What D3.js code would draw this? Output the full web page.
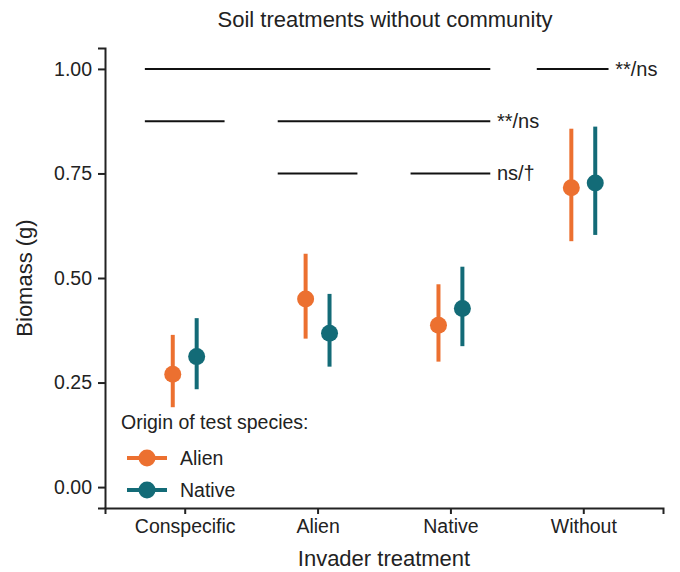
<!DOCTYPE html>
<html>
<head>
<meta charset="utf-8">
<script src="https://cdn.jsdelivr.net/npm/d3@7"></script>
<style>
  body { margin: 0; background: #fff; }
  text { font-family: "Liberation Sans", Arial, sans-serif; fill: #222; }
</style>
</head>
<body>
<div id="chart-container"></div>
<script>
// categories and series
const treatments = ["Conspecific", "Alien", "Native", "Without"];
const origins = ["Alien", "Native"];

// means and 95% intervals, one value per treatment
const alienMean = [0.270, 0.450, 0.387, 0.716];
const alienLow = [0.191, 0.355, 0.300, 0.588];
const alienHigh = [0.364, 0.558, 0.485, 0.857];
const nativeMean = [0.312, 0.368, 0.427, 0.727];
const nativeLow = [0.234, 0.288, 0.337, 0.603];
const nativeHigh = [0.404, 0.462, 0.527, 0.862];

const yTicks = [0, 0.25, 0.5, 0.75, 1.0];

// significance brackets: [category, offset from, category, offset to, y]
const sigLines = [
    ["Conspecific", -0.3, "Native", 0.3, 1.0],
    ["Without", -0.35, "Without", 0.19, 1.0],
    ["Conspecific", -0.3, "Conspecific", 0.3, 0.875],
    ["Alien", -0.3, "Native", 0.3, 0.875],
    ["Alien", -0.3, "Alien", 0.3, 0.75],
    ["Native", -0.3, "Native", 0.3, 0.75],
];
// significance labels: [category, offset, y, text]
const sigLabels = [
    ["Without", 0.24, 1.0, "**/ns"],
    ["Native", 0.35, 0.875, "**/ns"],
    ["Native", 0.35, 0.75, "ns/†"],
];

const drawChart = () => {
    const width = 680;
    const height = 572;
    const margin = { top: 48, right: 17, bottom: 64, left: 105 };

    const color = d3.scaleOrdinal()
        .domain(origins)
        .range(["#EC7030", "#136B77"]);

    const svg = d3.select("#chart-container")
        .append("svg")
        .attr("width", width)
        .attr("height", height);

    // x scale: ggplot-like discrete expansion of 0.6 units
    const x = d3.scalePoint()
        .domain(treatments)
        .range([margin.left, width - margin.right])
        .padding(0.6);
    const step = x.step();
    const xAt = (cat, off) => x(cat) + off * step;

    const y = d3.scaleLinear()
        .domain([-0.05, 1.05])
        .range([height - margin.bottom, margin.top]);

    // axes
    const xAxis = svg.append("g")
        .attr("transform", `translate(0,${height - margin.bottom})`)
        .call(d3.axisBottom(x).tickSizeOuter(0).tickSize(6).tickPadding(5));
    const yAxis = svg.append("g")
        .attr("transform", `translate(${margin.left},0)`)
        .call(d3.axisLeft(y).tickValues(yTicks).tickFormat(d3.format(".2f")).tickSizeOuter(0).tickSize(7).tickPadding(6));

    [xAxis, yAxis].forEach(ax => {
        ax.select(".domain").attr("stroke", "#222").attr("stroke-width", 2);
        ax.selectAll(".tick line").attr("stroke", "#222").attr("stroke-width", 2);
        ax.selectAll(".tick text")
            .attr("font-size", 19.5)
            .attr("font-family", "Liberation Sans, Arial, sans-serif")
            .attr("fill", "#222");
    });

    // axis titles and main title
    svg.append("text")
        .attr("x", (margin.left + width - margin.right) / 2)
        .attr("y", 566)
        .attr("text-anchor", "middle")
        .attr("font-size", 22)
        .text("Invader treatment");

    svg.append("text")
        .attr("transform", `translate(32,${y(0.5)}) rotate(-90)`)
        .attr("text-anchor", "middle")
        .attr("font-size", 22)
        .text("Biomass (g)");

    svg.append("text")
        .attr("x", (margin.left + width - margin.right) / 2 + 1)
        .attr("y", 27)
        .attr("text-anchor", "middle")
        .attr("font-size", 22)
        .text("Soil treatments without community");

    // significance lines
    svg.append("g")
        .selectAll("line")
        .data(sigLines)
        .join("line")
        .attr("x1", d => xAt(d[0], d[1]))
        .attr("x2", d => xAt(d[2], d[3]))
        .attr("y1", d => y(d[4]))
        .attr("y2", d => y(d[4]))
        .attr("stroke", "#111")
        .attr("stroke-width", 2);

    svg.append("g")
        .selectAll("text")
        .data(sigLabels)
        .join("text")
        .attr("x", d => xAt(d[0], d[1]))
        .attr("y", d => y(d[2]))
        .attr("dy", "0.35em")
        .attr("font-size", 20)
        .text(d => d[3]);

    // build rows from arrays
    const rows = [];
    treatments.forEach((t, i) => {
        rows.push({ treatment: t, origin: "Alien", mean: alienMean[i], low: alienLow[i], high: alienHigh[i] });
        rows.push({ treatment: t, origin: "Native", mean: nativeMean[i], low: nativeLow[i], high: nativeHigh[i] });
    });
    const dodge = d => xAt(d.treatment, d.origin === "Alien" ? -0.09 : 0.09);

    const marks = svg.append("g");
    marks.selectAll("line")
        .data(rows)
        .join("line")
        .attr("x1", dodge)
        .attr("x2", dodge)
        .attr("y1", d => y(d.low))
        .attr("y2", d => y(d.high))
        .attr("stroke", d => color(d.origin))
        .attr("stroke-width", 4);
    marks.selectAll("circle")
        .data(rows)
        .join("circle")
        .attr("cx", dodge)
        .attr("cy", d => y(d.mean))
        .attr("r", 8.5)
        .attr("fill", d => color(d.origin));

    // legend
    const legend = svg.append("g").attr("transform", "translate(121,0)");
    legend.append("text")
        .attr("x", 0)
        .attr("y", 429)
        .attr("font-size", 19.5)
        .text("Origin of test species:");
    const keys = legend.selectAll("g.key")
        .data(origins)
        .join("g")
        .attr("class", "key")
        .attr("transform", (d, i) => `translate(0,${458 + i * 32})`);
    keys.append("line")
        .attr("x1", 6).attr("x2", 46)
        .attr("stroke", d => color(d))
        .attr("stroke-width", 4);
    keys.append("circle")
        .attr("cx", 26)
        .attr("r", 8.5)
        .attr("fill", d => color(d));
    keys.append("text")
        .attr("x", 59)
        .attr("dy", "0.36em")
        .attr("font-size", 19.5)
        .text(d => d);
};

drawChart();
</script>
</body>
</html>
